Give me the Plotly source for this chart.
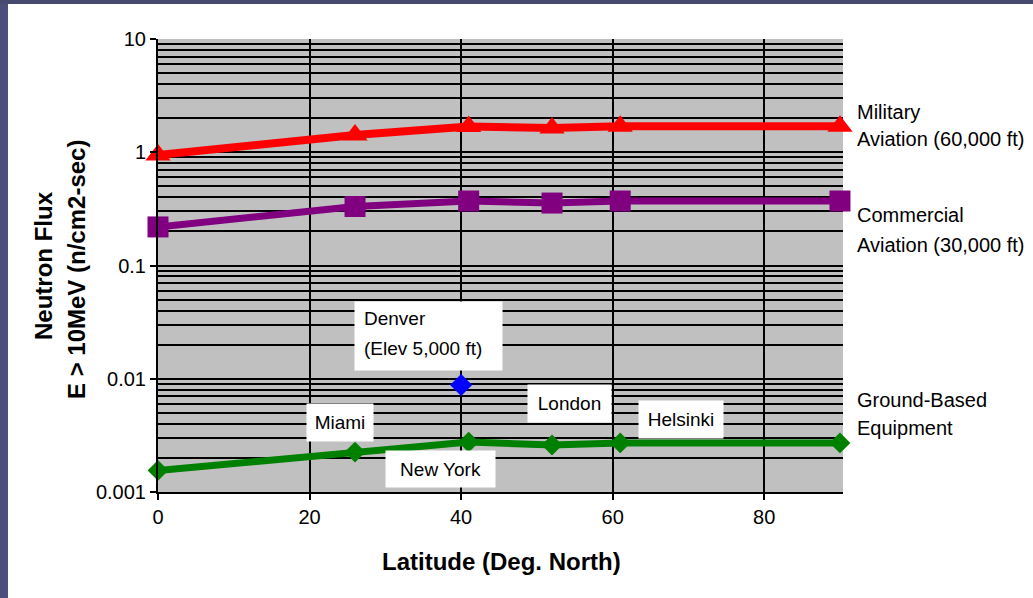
import plotly.graph_objects as go

# ---- data ----
latitude = [0, 26, 41, 52, 61, 90]
military = [0.946, 1.42, 1.69, 1.64, 1.70, 1.70]
commercial = [0.219, 0.332, 0.371, 0.356, 0.371, 0.371]
ground = [0.00155, 0.00225, 0.00276, 0.0026, 0.00271, 0.00271]
denver_lat = [40]
denver_flux = [0.0088]

y_tickvals = [0.001, 0.01, 0.1, 1, 10]
y_ticktext = ["0.001", "0.01", "0.1", "1", "10"]
x_tickvals = [0, 20, 40, 60, 80]
minor_vals = [m * d for d in [0.001, 0.01, 0.1, 1] for m in range(2, 10)]

FONT = "Liberation Sans, Arial, sans-serif"

fig = go.Figure()
fig.add_trace(go.Scatter(x=latitude, y=military, mode="lines+markers",
                         line=dict(color="#FF0000", width=8),
                         marker=dict(symbol="triangle-up", size=22, color="#FF0000"),
                         cliponaxis=False, showlegend=False))
fig.add_trace(go.Scatter(x=latitude, y=commercial, mode="lines+markers",
                         line=dict(color="#800080", width=7),
                         marker=dict(symbol="square", size=21, color="#800080"),
                         cliponaxis=False, showlegend=False))
fig.add_trace(go.Scatter(x=latitude, y=ground, mode="lines+markers",
                         line=dict(color="#008000", width=7),
                         marker=dict(symbol="diamond", size=16, color="#008000"),
                         cliponaxis=False, showlegend=False))
fig.add_trace(go.Scatter(x=denver_lat, y=denver_flux, mode="markers",
                         marker=dict(symbol="diamond", size=17, color="#0000FF"),
                         cliponaxis=False, showlegend=False))

ann = []
# boxed labels (white boxes)
def box(x, ly, w, h, text=""):
    ann.append(dict(x=x, y=ly, xref="x", yref="y", text=text, showarrow=False,
                    width=w, height=h, bgcolor="white", borderpad=0,
                    xanchor="center", yanchor="middle",
                    font=dict(family=FONT, size=19, color="black")))

box(35.7, -1.6225, 147, 68)
box(54.31, -2.2185, 83, 37, "London")
box(69.02, -2.3598, 84, 37, "Helsinki")
box(24.02, -2.3863, 66, 37, "Miami")
box(37.28, -2.7969, 109, 36, "New York")

def txt(x, ly, text, xref="x", anchor="left", size=19):
    ann.append(dict(x=x, y=ly, xref=xref, yref="y", text=text, showarrow=False,
                    xanchor=anchor, yanchor="middle",
                    font=dict(family=FONT, size=size, color="black")))

txt(26.9, -1.4636, "Denver")
txt(26.9, -1.7285, "(Elev 5,000 ft)")
txt(1.0175, 0.3554, "Military", xref="paper", size=20)
txt(1.0175, 0.1170, "Aviation (60,000 ft)", xref="paper", size=20)
txt(1.0175, -0.5541, "Commercial", xref="paper", size=20)
txt(1.0175, -0.8190, "Aviation (30,000 ft)", xref="paper", size=20)
txt(1.0175, -2.1876, "Ground-Based", xref="paper", size=20)
txt(1.0175, -2.4349, "Equipment", xref="paper", size=20)

# axis titles
ann.append(dict(x=0.502, y=-0.1545, xref="paper", yref="paper", text="<b>Latitude (Deg. North)</b>",
                showarrow=False, xanchor="center", yanchor="middle",
                font=dict(family=FONT, size=24, color="black")))
ann.append(dict(x=-0.1679, y=0.5011, xref="paper", yref="paper", text="<b>Neutron Flux</b>",
                showarrow=False, xanchor="center", yanchor="middle", textangle=-90,
                font=dict(family=FONT, size=24, color="black")))
ann.append(dict(x=-0.1197, y=0.490, xref="paper", yref="paper", text="<b>E > 10MeV (n/cm2-sec)</b>",
                showarrow=False, xanchor="center", yanchor="middle", textangle=-90,
                font=dict(family=FONT, size=24, color="black")))

shapes = [
    dict(type="rect", xref="paper", yref="paper", x0=-0.2307, x1=-0.219, y0=-0.24, y1=1.09,
         fillcolor="#4b4d7c", line=dict(width=0), layer="above"),
    dict(type="rect", xref="paper", yref="paper", x0=-0.2307, x1=1.28, y0=1.0773, y1=1.09,
         fillcolor="#474a70", line=dict(width=0), layer="above"),
]

fig.update_layout(
    width=1033, height=598, autosize=False,
    margin=dict(l=158, r=190, t=39, b=106),
    paper_bgcolor="white", plot_bgcolor="#C0C0C0",
    annotations=ann, shapes=shapes,
    font=dict(family=FONT, size=20, color="black"),
    xaxis=dict(range=[0, 90.4], tickmode="array", tickvals=x_tickvals,
               showgrid=True, gridcolor="#000000", gridwidth=2,
               showline=True, linecolor="black", linewidth=2,
               ticks="outside", ticklen=6, tickwidth=2, tickcolor="black",
               tickfont=dict(family=FONT, size=20, color="black"),
               zeroline=False),
    yaxis=dict(type="log", range=[-3, 1], tickmode="array",
               tickvals=y_tickvals, ticktext=y_ticktext,
               showgrid=True, gridcolor="#000000", gridwidth=2,
               minor=dict(tickmode="array", tickvals=minor_vals, showgrid=True,
                          gridcolor="#000000", gridwidth=2, ticks=""),
               showline=True, linecolor="black", linewidth=2,
               ticks="outside", ticklen=6, tickwidth=2, tickcolor="black",
               tickfont=dict(family=FONT, size=20, color="black"),
               zeroline=False),
)

fig.write_html("out.html", config={"displayModeBar": False},
               post_script="document.body.style.margin='0';document.body.style.overflow='hidden';")
